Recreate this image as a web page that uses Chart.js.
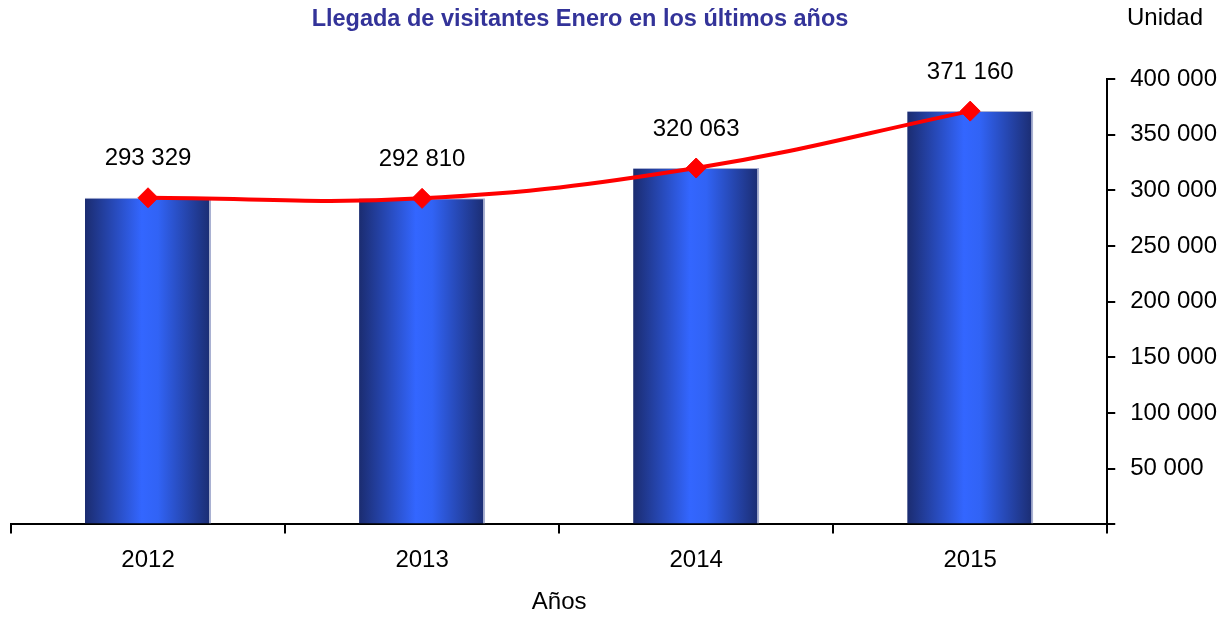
<!DOCTYPE html>
<html>
<head>
<meta charset="utf-8">
<script src="https://cdn.jsdelivr.net/npm/chart.js@4.4.1/dist/chart.umd.min.js"></script>
<style>
  html, body { margin: 0; padding: 0; background: #fff; }
  #wrap { width: 1232px; height: 617px; }
</style>
</head>
<body>
<div id="wrap"><canvas id="chart"></canvas></div>
<script>
// data
const years = ['2012', '2013', '2014', '2015'];
const visitantes = [293329, 292810, 320063, 371160];
const yTickValues = [0, 50000, 100000, 150000, 200000, 250000, 300000, 350000, 400000];

const FONT = 'Liberation Sans, Arial, sans-serif';
const BAR_PCT = 0.46;

function fmt(v) {
    return String(v).replace(/\B(?=(\d{3})+(?!\d))/g, ' ');
}

// horizontal gradient for every bar, dark edges and bright centre
function barGradient(context) {
    const chart = context.chart;
    const area = chart.chartArea;
    if (!area) return '#3366ff';
    const xScale = chart.scales.x;
    const cx = xScale.getPixelForValue(context.dataIndex);
    const half = (area.right - area.left) / years.length * BAR_PCT / 2;
    const g = chart.ctx.createLinearGradient(cx - half, 0, cx + half, 0);
    g.addColorStop(0, '#1b2c70');
    g.addColorStop(0.45, '#3366ff');
    g.addColorStop(0.58, '#3163f5');
    g.addColorStop(1, '#1b2c70');
    return g;
}

// labels above the points, title and unit text
const extraText = {
    id: 'extraText',
    afterDatasetsDraw(chart) {
        const ctx = chart.ctx;
        const meta = chart.getDatasetMeta(1);
        ctx.save();
        ctx.fillStyle = '#000';
        ctx.font = '24px ' + FONT;
        ctx.textAlign = 'center';
        ctx.textBaseline = 'middle';
        meta.data.forEach((pt, i) => {
            ctx.fillText(fmt(visitantes[i]), pt.x, pt.y - 39);
        });
        ctx.restore();
    },
    afterDraw(chart) {
        const ctx = chart.ctx;
        ctx.save();
        ctx.textBaseline = 'middle';
        ctx.textAlign = 'center';
        ctx.fillStyle = '#333399';
        ctx.font = 'bold 23.5px ' + FONT;
        ctx.fillText('Llegada de visitantes Enero en los últimos años', 580, 20);
        ctx.fillStyle = '#000';
        ctx.font = '24px ' + FONT;
        ctx.textAlign = 'left';
        ctx.fillText('Unidad', 1127, 18);
        ctx.restore();
    }
};

const ctx = document.getElementById('chart').getContext('2d');
new Chart(ctx, {
    data: {
        labels: years,
        datasets: [{
            type: 'bar',
            data: visitantes,
            backgroundColor: barGradient,
            borderColor: '#a9b1d2',
            borderWidth: { top: 1, right: 2, left: 0, bottom: 0 },
            borderSkipped: 'bottom',
            barPercentage: BAR_PCT,
            categoryPercentage: 1,
            order: 1
        }, {
            type: 'line',
            data: visitantes,
            borderColor: '#ff0000',
            borderWidth: 4,
            tension: 0.4,
            pointStyle: 'rectRot',
            pointRadius: 10,
            pointBackgroundColor: '#ff0000',
            pointBorderColor: '#ff0000',
            pointBorderWidth: 1,
            clip: false,
            order: 0
        }]
    },
    options: {
        responsive: true,
        maintainAspectRatio: false,
        animation: false,
        layout: { padding: { left: 10, right: 0, top: 79, bottom: 0 } },
        plugins: {
            legend: { display: false },
            tooltip: { enabled: false }
        },
        scales: {
            x: {
                offset: true,
                grid: {
                    offset: true,
                    drawOnChartArea: false,
                    drawTicks: true,
                    tickLength: 9,
                    color: '#000',
                    lineWidth: 2
                },
                border: { color: '#000', width: 2 },
                ticks: {
                    color: '#000',
                    font: { family: FONT, size: 24 },
                    padding: 13
                },
                title: {
                    display: true,
                    text: 'Años',
                    color: '#000',
                    font: { family: FONT, size: 24 },
                    padding: { top: 0, bottom: 0 }
                }
            },
            y: {
                position: 'right',
                min: 0,
                max: 400000,
                afterBuildTicks: axis => {
                    axis.ticks = yTickValues.map(v => ({ value: v }));
                },
                grid: {
                    drawOnChartArea: false,
                    drawTicks: true,
                    tickLength: 8,
                    color: '#000',
                    lineWidth: 2
                },
                border: { color: '#000', width: 2 },
                ticks: {
                    color: '#000',
                    font: { family: FONT, size: 24 },
                    padding: 15,
                    callback: v => (v === 0 ? '' : fmt(v))
                }
            }
        }
    },
    plugins: [extraText]
});
</script>
</body>
</html>
